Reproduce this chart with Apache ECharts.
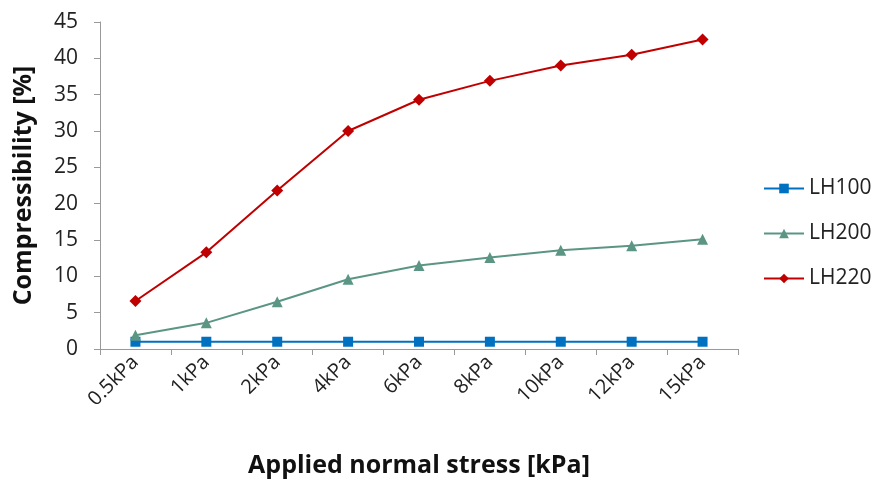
<!DOCTYPE html>
<html>
<head>
<meta charset="utf-8">
<script src="https://cdn.jsdelivr.net/npm/echarts@6/dist/echarts.min.js"></script>
<style>html,body{margin:0;padding:0;background:#fff}#c{width:875px;height:483px}</style>
</head>
<body>
<div id="c"></div>
<script>
const categories = ['0.5kPa','1kPa','2kPa','4kPa','6kPa','8kPa','10kPa','12kPa','15kPa'];
const lh100 = [1.0,1.0,1.0,1.0,1.0,1.0,1.0,1.0,1.0];
const lh200 = [1.9,3.6,6.5,9.6,11.5,12.6,13.6,14.2,15.1];
const lh220 = [6.6,13.3,21.8,30.0,34.3,36.9,39.0,40.5,42.6];
const yTicks = {min:0, max:45, interval:5};

const FONT = 'Open Sans';
const chart = echarts.init(document.getElementById('c'), null, {renderer:'canvas'});
chart.setOption({
  animation:false,
  backgroundColor:'#fff',
  textStyle:{fontFamily:FONT},
  grid:{left:100, right:137, top:22, bottom:134, outerBoundsMode:'none', containLabel:false},
  legend:{
    orient:'vertical', left:758, top:173, itemGap:24, itemWidth:40, itemHeight:12,
    textStyle:{fontSize:21, color:'#222', fontFamily:FONT},
    data:['LH100','LH200','LH220']
  },
  xAxis:{
    type:'category', data:categories, boundaryGap:true,
    name:'Applied normal stress [kPa]', nameLocation:'middle', nameGap:104,
    nameTextStyle:{fontSize:25, fontWeight:'bold', color:'#111', fontFamily:FONT},
    axisLine:{lineStyle:{color:'#999', width:1}},
    axisTick:{show:true, alignWithLabel:false, length:6, lineStyle:{color:'#999'}},
    axisLabel:{rotate:45, fontSize:20, color:'#222', margin:10, fontFamily:FONT}
  },
  yAxis:{
    type:'value', min:yTicks.min, max:yTicks.max, interval:yTicks.interval,
    name:'Compressibility [%]', nameLocation:'middle', nameGap:64,
    nameTextStyle:{fontSize:25, fontWeight:'bold', color:'#111', fontFamily:FONT},
    axisLine:{show:true, lineStyle:{color:'#999', width:1}},
    axisTick:{show:true, length:6, lineStyle:{color:'#999'}},
    splitLine:{show:false},
    axisLabel:{fontSize:21, color:'#222', margin:22, fontFamily:FONT}
  },
  series:[
    {name:'LH100', type:'line', data:lh100, symbol:'rect', symbolSize:10,
     itemStyle:{color:'#0070C0'}, lineStyle:{color:'#0070C0', width:2}},
    {name:'LH200', type:'line', data:lh200, symbol:'triangle', symbolSize:11,
     itemStyle:{color:'#5B9584'}, lineStyle:{color:'#5B9584', width:2}},
    {name:'LH220', type:'line', data:lh220, symbol:'diamond', symbolSize:12,
     itemStyle:{color:'#C00000'}, lineStyle:{color:'#C00000', width:2}}
  ]
});
</script>
</body>
</html>
